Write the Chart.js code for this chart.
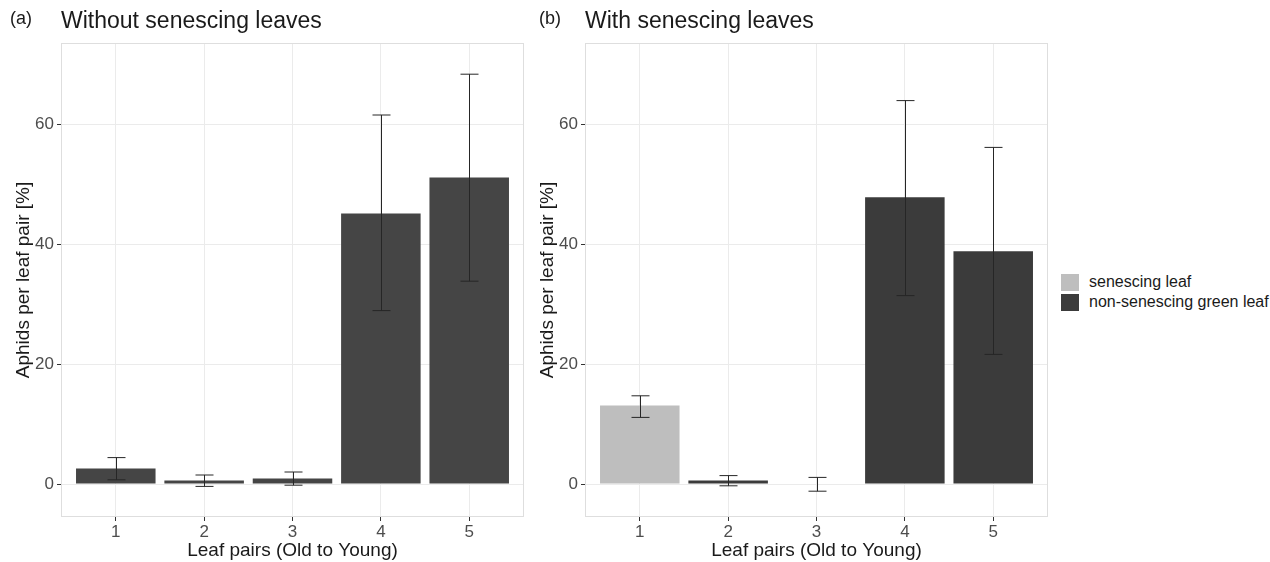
<!DOCTYPE html>
<html>
<head>
<meta charset="utf-8">
<script src="https://cdn.jsdelivr.net/npm/chart.js@4"></script>
<style>
  body { margin: 0; background: #fff; font-family: "Liberation Sans", Arial, sans-serif; }
  #wrap { position: relative; width: 1270px; height: 562px; }
  .panel { position: absolute; top: 0; width: 528px; height: 562px; }
  .tag { position: absolute; top: 8px; font-size: 18px; color: #1a1a1a; }
  .ttl { position: absolute; top: 7px; font-size: 23px; color: #1a1a1a; }
  #legend { position: absolute; left: 1061px; top: 272px; font-size: 16px; color: #1a1a1a; }
  .item { display: flex; align-items: center; height: 20px; }
  .sw { width: 18px; height: 17px; margin-right: 10px; }
</style>
</head>
<body>
<div id="wrap">
  <div class="panel" style="left:0px"><canvas id="chart-a" width="528" height="562"></canvas></div>
  <div class="panel" style="left:524px"><canvas id="chart-b" width="528" height="562"></canvas></div>
  <div class="tag" style="left:10px">(a)</div>
  <div class="ttl" style="left:61px">Without senescing leaves</div>
  <div class="tag" style="left:539px">(b)</div>
  <div class="ttl" style="left:585px">With senescing leaves</div>
  <div id="legend">
    <div class="item"><div class="sw" style="background:#bebebe"></div>senescing leaf</div>
    <div class="item"><div class="sw" style="background:#3b3b3b"></div>non-senescing green leaf</div>
  </div>
</div>
<script>
const leafPairs = [1, 2, 3, 4, 5];
const yTicks = [0, 20, 40, 60];

// (a) without senescing leaves
const withoutMeans = [2.6, 0.6, 0.9, 45.1, 51.1];
const withoutLower = [0.7, -0.4, -0.2, 28.9, 33.8];
const withoutUpper = [4.4, 1.5, 2.0, 61.5, 68.3];

// (b) with senescing leaves
const senescingMeans = [13.1, null, null, null, null];
const greenMeans = [null, 0.6, 0, 47.8, 38.8];
const withLower = [11.1, -0.3, -1.2, 31.4, 21.6];
const withUpper = [14.7, 1.4, 1.1, 63.9, 56.1];

const tickColor = "#4d4d4d";
const gridColor = "#ebebeb";

const errorBars = {
  id: "errorBars",
  afterDatasetsDraw(chart, args, opts) {
    const ctx = chart.ctx;
    const x = chart.scales.x, y = chart.scales.y;
    ctx.save();
    ctx.strokeStyle = "#262626";
    ctx.lineWidth = 1;
    opts.lower.forEach((lo, i) => {
      const px = Math.round(x.getPixelForValue(leafPairs[i])) + 0.5;
      const top = y.getPixelForValue(opts.upper[i]);
      const bot = y.getPixelForValue(lo);
      ctx.beginPath();
      ctx.moveTo(px, top); ctx.lineTo(px, bot);
      ctx.moveTo(px - 9, top); ctx.lineTo(px + 9, top);
      ctx.moveTo(px - 9, bot); ctx.lineTo(px + 9, bot);
      ctx.stroke();
    });
    ctx.restore();
  }
};

const panelBorder = {
  id: "panelBorder",
  afterDraw(chart) {
    const a = chart.chartArea, ctx = chart.ctx;
    ctx.save();
    ctx.strokeStyle = "#dedede";
    ctx.lineWidth = 1;
    ctx.strokeRect(a.left + 0.5, a.top + 0.5, a.right - a.left - 1, a.bottom - a.top - 1);
    ctx.restore();
  }
};

function toPoints(values) {
  return leafPairs.map((p, i) => ({ x: p, y: values[i] }));
}

function makeChart(id, datasets, lower, upper) {
  new Chart(document.getElementById(id), {
    type: "bar",
    data: { datasets },
    options: {
      responsive: false,
      animation: false,
      layout: { padding: { top: 43, right: 4, left: 0, bottom: 0 } },
      plugins: {
        legend: { display: false },
        tooltip: { enabled: false },
        errorBars: { lower, upper }
      },
      datasets: { bar: { barPercentage: 0.9, categoryPercentage: 1.0, grouped: false } },
      scales: {
        x: {
          type: "linear",
          offset: false,
          min: 0.38,
          max: 5.62,
          afterBuildTicks: (s) => { s.ticks = leafPairs.map(v => ({ value: v })); },
          afterFit: (s) => { s.height = 45; },
          grid: { color: gridColor, offset: false, tickLength: 4, tickColor: "#333" },
          border: { display: false },
          ticks: { color: tickColor, padding: 1, font: { family: "Liberation Sans", size: 17 } },
          title: {
            display: true,
            text: "Leaf pairs (Old to Young)",
            color: "#1a1a1a",
            padding: { top: 0, bottom: 0 },
            font: { family: "Liberation Sans", size: 19 }
          }
        },
        y: {
          min: -5.5,
          max: 73.5,
          afterBuildTicks: (s) => { s.ticks = yTicks.map(v => ({ value: v })); },
          afterFit: (s) => { s.width = 61; },
          grid: { color: gridColor, tickLength: 4, tickColor: "#333" },
          border: { display: false },
          ticks: { color: tickColor, padding: 3, font: { family: "Liberation Sans", size: 17 } },
          title: {
            display: true,
            text: "Aphids per leaf pair [%]",
            color: "#1a1a1a",
            padding: { top: 12, bottom: 0 },
            font: { family: "Liberation Sans", size: 19 }
          }
        }
      }
    },
    plugins: [errorBars, panelBorder]
  });
}

makeChart("chart-a", [
  { label: "non-senescing green leaf", data: toPoints(withoutMeans), backgroundColor: "#454545" }
], withoutLower, withoutUpper);

makeChart("chart-b", [
  { label: "senescing leaf", data: toPoints(senescingMeans), backgroundColor: "#bebebe" },
  { label: "non-senescing green leaf", data: toPoints(greenMeans), backgroundColor: "#3b3b3b" }
], withLower, withUpper);
</script>
</body>
</html>
